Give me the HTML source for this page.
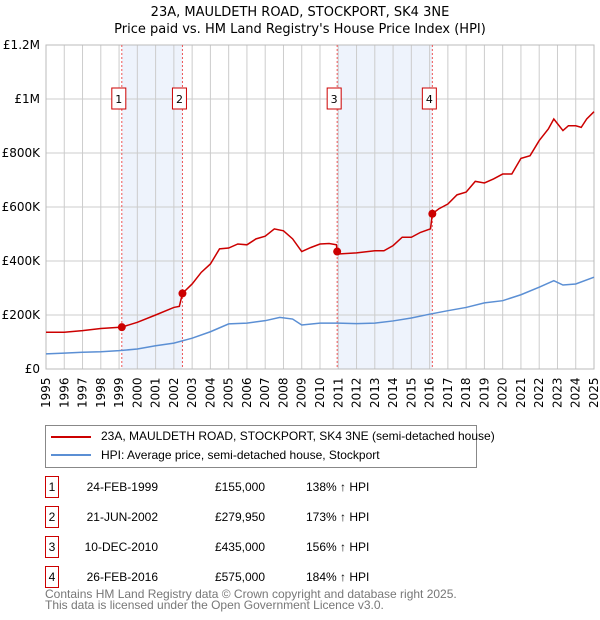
<!DOCTYPE html>
<html><head><meta charset="utf-8"><style>
body{margin:0;width:600px;height:620px;background:#fff;font-family:"DejaVu Sans","Liberation Sans",sans-serif;overflow:hidden;position:relative}
.t{position:absolute;font-size:12px;color:#000;white-space:nowrap}
.n{font-family:"Liberation Sans",sans-serif}
.box{position:absolute;border:1px solid #c00;width:12px;height:20px;font-size:12px;text-align:center;line-height:20px}
</style></head><body>
<div class="t" style="left:0;width:600px;text-align:center;top:4px;font-size:13px;line-height:17px">23A, MAULDETH ROAD, STOCKPORT, SK4 3NE<br>Price paid vs. HM Land Registry's House Price Index (HPI)</div>
<svg id="c" width="600" height="420" style="position:absolute;left:0;top:0" font-family="DejaVu Sans, Liberation Sans, sans-serif" font-size="12"></svg>
<div style="position:absolute;left:45px;top:425px;width:430px;height:41px;border:1px solid #888">
<div style="position:absolute;left:5px;top:10px;width:40px;height:2px;background:#c00"></div>
<div class="t n" style="left:55px;top:3px;font-size:12px">23A, MAULDETH ROAD, STOCKPORT, SK4 3NE (semi-detached house)</div>
<div style="position:absolute;left:5px;top:28px;width:40px;height:2px;background:#5b8fd4"></div>
<div class="t n" style="left:55px;top:22px;font-size:12px">HPI: Average price, semi-detached house, Stockport</div>
</div>
<div id="tbl"></div>
<div class="t n" style="left:45px;top:589px;color:#777;font-size:12px;line-height:11px">Contains HM Land Registry data © Crown copyright and database right 2025.<br>This data is licensed under the Open Government Licence v3.0.</div>
<script>
const redX=[1995,1996,1997,1998,1999.15,2000,2001,2002,2002.3,2002.47,2003,2003.5,2004,2004.5,2005,2005.5,2006,2006.5,2007,2007.5,2008,2008.5,2009,2009.5,2010,2010.5,2010.9,2010.94,2011,2012,2013,2013.5,2014,2014.5,2015,2015.5,2016.05,2016.15,2016.5,2017,2017.5,2018,2018.5,2019,2019.5,2020,2020.5,2021,2021.5,2022,2022.5,2022.8,2023.3,2023.6,2024,2024.3,2024.6,2025];
const redY=[136,136,142,150,155,173,200,228,232,280,315,358,389,445,448,463,460,482,492,519,512,482,435,450,463,465,460,435,426,430,438,438,457,488,488,506,519,575,593,611,645,655,695,689,704,722,722,780,790,846,889,926,883,901,901,895,926,953];
const hpiX=[1995,1996,1997,1998,1999,2000,2001,2002,2003,2004,2005,2006,2007,2007.8,2008.5,2009,2010,2011,2012,2013,2014,2015,2016,2017,2018,2019,2020,2021,2022,2022.8,2023.3,2024,2025];
const hpiY=[56,59,62,64,68,74,86,96,114,138,167,170,179,191,185,163,170,170,168,170,178,189,203,216,228,245,253,275,303,327,311,315,340];
const saleLabels=["1","2","3","4"];
const saleX=[1999.15,2002.47,2010.94,2016.15];
const saleY=[155,279.95,435,575];
const saleDates=["24-FEB-1999","21-JUN-2002","10-DEC-2010","26-FEB-2016"];
const salePrices=["£155,000","£279,950","£435,000","£575,000"];
const salePct=["138% ↑ HPI","173% ↑ HPI","156% ↑ HPI","184% ↑ HPI"];
const yTicks=[0,200,400,600,800,1000,1200];
const yTickLabels=["£0","£200K","£400K","£600K","£800K","£1M","£1.2M"];
const X=v=>46+(v-1995)*(548/30), Y=v=>369-v*0.27;
const s=document.getElementById('c');const NS="http://www.w3.org/2000/svg";
function el(t,a,p){const e=document.createElementNS(NS,t);for(const k in a)e.setAttribute(k,a[k]);(p||s).appendChild(e);return e;}
let e;
[[0,1],[2,3]].forEach((p,i)=>{e=el('rect',{x:X(saleX[p[0]]),y:45,width:X(saleX[p[1]])-X(saleX[p[0]]),height:324,fill:'#eef3fc'});
});
for(let yr=1995;yr<=2025;yr++){e=el('line',{x1:X(yr),x2:X(yr),y1:45,y2:369,stroke:'#ccc'});

e=el('text',{transform:`translate(${X(yr)+4},408) rotate(-90)`,'font-size':12});e.textContent=yr;
}
yTicks.forEach((v,i)=>{e=el('line',{x1:46,x2:594,y1:Y(v),y2:Y(v),stroke:'#ccc'});

e=el('text',{x:40,y:Y(v)+4,'text-anchor':'end'});e.textContent=yTickLabels[i];
});
el('rect',{x:46,y:45,width:548,height:324,fill:'none',stroke:'#bbb'});
saleX.forEach(v=>{e=el('line',{x1:X(v),x2:X(v),y1:45,y2:369,stroke:'#e55','stroke-dasharray':'2,2'});
});
e=el('polyline',{points:hpiX.map((v,i)=>X(v)+','+Y(hpiY[i])).join(' '),fill:'none',stroke:'#5b8fd4','stroke-width':1.5});

e=el('polyline',{points:redX.map((v,i)=>X(v)+','+Y(redY[i])).join(' '),fill:'none',stroke:'#c00','stroke-width':1.5});

saleX.forEach((v,i)=>{e=el('circle',{cx:X(v),cy:Y(saleY[i]),r:4,fill:'#c00'});

e=el('rect',{x:X(v)-10,y:88,width:14,height:21,fill:'#fff',stroke:'#c00'});

e=el('text',{x:X(v)-3,y:103,'text-anchor':'middle','font-size':11});e.textContent=saleLabels[i];
});
const tb=document.getElementById('tbl');
saleLabels.forEach((l,i)=>{const top=476+i*30;
let d=document.createElement('div');d.className='box n';d.style.left='45px';d.style.top=top+'px';d.textContent=l;
tb.appendChild(d);
[[78,saleDates[i]],[216,salePrices[i]],[306,salePct[i]]].forEach((c,j)=>{d=document.createElement('div');d.className='t n';
d.style.top=(top+4)+'px';d.textContent=c[1];
if(j==0){d.style.right=(600-158)+'px';}else if(j==1){d.style.right=(600-265)+'px';}else d.style.left=c[0]+'px';
tb.appendChild(d);});});
</script>
</body></html>
